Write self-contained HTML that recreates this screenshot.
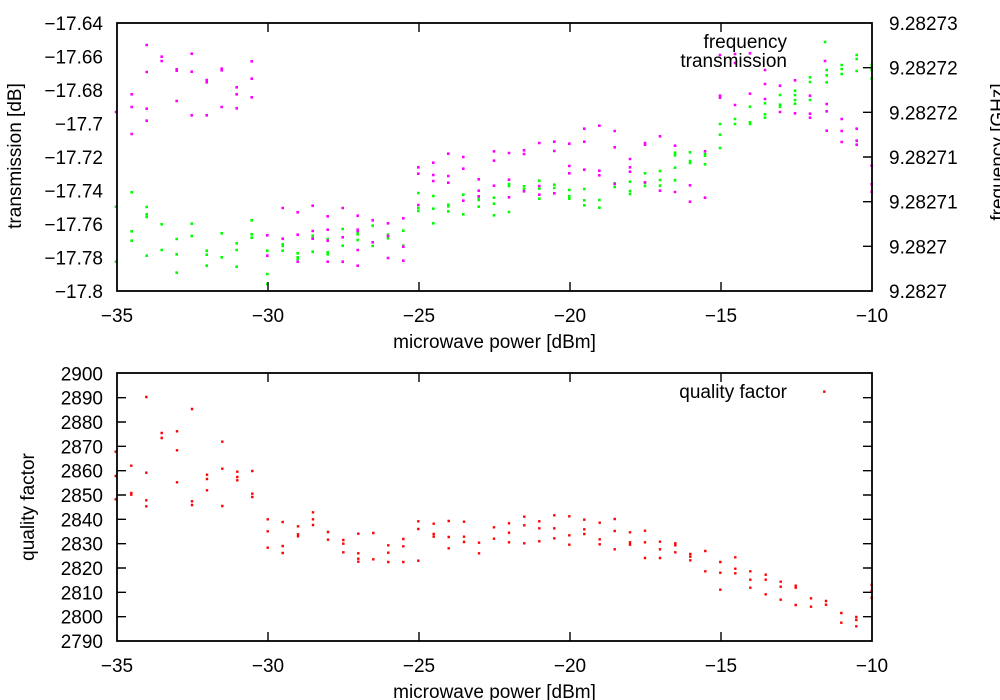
<!DOCTYPE html>
<html><head><meta charset="utf-8"><style>
html,body{margin:0;padding:0;background:#fff;}
svg{display:block;}
text{font-family:"Liberation Sans",Arial,sans-serif;font-size:19px;fill:#000;}
</style></head><body>
<svg width="1000" height="700" viewBox="0 0 1000 700" xmlns="http://www.w3.org/2000/svg">
<rect width="1000" height="700" fill="#fff"/>

<!-- TOP PLOT POINTS -->
<path fill="none" stroke="#00ff00" stroke-width="2.6" stroke-linecap="square" d="
M116 206.7h.01M116 261.7h.01M131.7 192.3h.01M131.7 231.3h.01M131.7 240.7h.01M146.7 207h.01M146.7 214.3h.01M146.7 217h.01M146.7 255.7h.01
M161.7 224.3h.01M161.7 250h.01M176.7 239h.01M176.7 254.3h.01M176.7 272.7h.01M191.7 223.7h.01M191.7 236h.01M206.7 250.7h.01M206.7 254.7h.01M206.7 265.7h.01
M221.7 233.3h.01M221.7 257.3h.01M236.7 243.3h.01M236.7 250h.01M236.7 266.7h.01M251.7 220.3h.01M251.7 234.3h.01M251.7 237.7h.01
M267.3 250.7h.01M267.3 274h.01M267.3 284h.01M282.7 244.3h.01M282.7 246h.01M282.7 250.7h.01M297.7 253.3h.01M297.7 257.3h.01M297.7 259h.01
M312.7 235.7h.01M312.7 237.7h.01M312.7 251.7h.01M327.7 239h.01M327.7 252.3h.01M327.7 254.3h.01M342.7 229h.01M342.7 245.7h.01
M357.7 232.3h.01M357.7 234.3h.01M357.7 240h.01M372.7 225.7h.01M372.7 246h.01M388 234.7h.01M388 238.3h.01M403.3 230.7h.01M403.3 245.7h.01
M418.3 193h.01M418.3 208h.01M418.3 211h.01M433.3 196h.01M433.3 208.7h.01M433.3 223.3h.01M448.3 204.7h.01M448.3 206.3h.01M448.3 211.3h.01
M463.3 194.7h.01M463.3 214.3h.01M478.7 197.3h.01M478.7 200h.01M478.7 206.7h.01M494 197.7h.01M494 203.7h.01M494 215.3h.01
M509 184h.01M509 186h.01M509 212h.01M524 186.3h.01M524 189.3h.01M539.3 180.7h.01M539.3 188.7h.01M539.3 198.7h.01
M554.3 184.7h.01M554.3 188h.01M569.3 190h.01M569.3 196.3h.01M569.3 198.7h.01M584.3 189h.01M584.3 200.3h.01M584.3 205.3h.01
M599.3 200h.01M599.3 207.7h.01M614.7 183.3h.01M614.7 187h.01M630 181.7h.01M630 191h.01M630 194h.01M645 173.3h.01M645 183h.01M645 186h.01
M660 171h.01M660 180h.01M660 185.7h.01M675 152.7h.01M675 155.3h.01M675 167.7h.01M675 180.3h.01M690 152.3h.01M690 161h.01M690 163h.01
M705 154h.01M705 155.7h.01M705 164.3h.01M720 124h.01M720 134.7h.01M720 148h.01M735 119h.01M735 124h.01M750 106.7h.01M750 122.3h.01M750 124h.01
M765 103.3h.01M765 114.3h.01M765 117.7h.01M780 95h.01M780 104.7h.01M780 106.7h.01M795 90.7h.01M795 95h.01M795 100h.01M795 103.7h.01
M810 77.3h.01M810 82h.01M810 100h.01M825 42h.01M826.7 70h.01M826.7 75.3h.01M826.7 82.3h.01M841.7 65h.01M841.7 69h.01M841.7 74h.01
M856.7 55h.01M856.7 59h.01M856.7 71h.01M871.7 65h.01M871.7 70h.01M871.7 78.7h.01"/>

<path fill="none" stroke="#ff00ff" stroke-width="2.6" stroke-linecap="square" d="
M116 112h.01M131.7 94.3h.01M131.7 107h.01M131.7 134h.01M146.7 45h.01M146.7 72h.01M146.7 108.7h.01M146.7 120.7h.01
M161.7 56.7h.01M161.7 61h.01M176.7 69.3h.01M176.7 70.7h.01M176.7 101h.01M191.7 53.7h.01M191.7 71.7h.01M191.7 115.3h.01
M206.7 80h.01M206.7 82.3h.01M206.7 115.3h.01M221.7 68.7h.01M221.7 70.3h.01M221.7 107h.01M236.7 87.3h.01M236.7 94.3h.01M236.7 108.3h.01
M251.7 61.3h.01M251.7 78.7h.01M251.7 97.3h.01M267.3 235.3h.01M267.3 255.7h.01M282.7 208h.01M282.7 238.7h.01
M297.7 212.3h.01M297.7 234.7h.01M297.7 261.7h.01M312.7 205.7h.01M312.7 231h.01M312.7 238.7h.01
M327.7 216.3h.01M327.7 229.7h.01M327.7 240.7h.01M327.7 261.7h.01M342.7 208h.01M342.7 237.3h.01M342.7 261.7h.01
M357.7 215.7h.01M357.7 229.7h.01M357.7 231h.01M357.7 250h.01M357.7 265.7h.01M372.7 220.3h.01M372.7 242.3h.01
M388 223.3h.01M388 236h.01M388 258h.01M403.3 218.3h.01M403.3 246.7h.01M403.3 260.7h.01
M418.3 167.3h.01M418.3 173.7h.01M418.3 205h.01M433.3 162.7h.01M433.3 175h.01M433.3 181h.01M448.3 153.7h.01M448.3 176h.01M448.3 182.7h.01
M463.3 157h.01M463.3 168.7h.01M463.3 200.7h.01M478.7 179.3h.01M478.7 190.7h.01M478.7 196.3h.01M494 151.3h.01M494 160.7h.01M494 185.7h.01
M509 153h.01M509 179.7h.01M509 197.3h.01M524 150.3h.01M524 154h.01M524 191.3h.01M539.3 143h.01M539.3 186h.01M539.3 194.7h.01
M554.3 141.7h.01M554.3 151h.01M554.3 193.3h.01M569.3 143.7h.01M569.3 166h.01M569.3 173.3h.01M584.3 128.7h.01M584.3 141.7h.01M584.3 169.7h.01
M599.3 125.7h.01M599.3 170.7h.01M599.3 175.3h.01M614.7 131h.01M614.7 147.3h.01M614.7 184h.01M630 159h.01M630 167.3h.01M630 171.7h.01
M645 143h.01M645 144.7h.01M645 182.3h.01M660 136.3h.01M660 190.7h.01M675 145.7h.01M675 192h.01M690 185.3h.01M690 201.7h.01
M705 151.3h.01M705 197.7h.01M720 55h.01M720 95.7h.01M720 97.7h.01M735 54h.01M735 63h.01M735 105h.01M750 53.3h.01M750 93.7h.01
M765 70h.01M765 84h.01M765 99h.01M780 85.7h.01M780 112h.01M795 80.3h.01M795 113.3h.01M810 95.7h.01M810 113.7h.01M810 117.7h.01
M825 61h.01M826.7 104h.01M826.7 111.3h.01M826.7 130.7h.01M841.7 119h.01M841.7 131h.01M841.7 142h.01
M856.7 128.7h.01M856.7 140.7h.01M856.7 144.7h.01M871.7 165.7h.01M871.7 184.3h.01M871.7 191.7h.01"/>

<!-- BOTTOM PLOT POINTS -->
<path fill="none" stroke="#ff0000" stroke-width="2.4" stroke-linecap="square" d="
M115.7 451.7h.01M115.7 476h.01M115.7 499.3h.01M131.3 465.7h.01M131.3 493h.01M131.3 494.7h.01
M146.3 397h.01M146.3 472.7h.01M146.3 500.3h.01M146.3 506.3h.01M161.7 433h.01M161.7 438h.01
M177 431.3h.01M177 450.3h.01M177 482.3h.01M192 409h.01M192 501.3h.01M192 505h.01M207 474.7h.01M207 479h.01M207 490.3h.01
M222.3 441.7h.01M222.3 468.7h.01M222.3 506h.01M237.3 471.7h.01M237.3 477h.01M237.3 480.3h.01M252.3 471h.01M252.3 493.7h.01M252.3 497h.01
M267.7 519.3h.01M267.7 531.3h.01M267.7 547.7h.01M282.7 522h.01M282.7 546h.01M282.7 553h.01M298 526.3h.01M298 534.3h.01M298 536.3h.01
M313 512.3h.01M313 519.3h.01M313 525h.01M328 532h.01M328 539.7h.01M343.3 540h.01M343.3 543.7h.01M343.3 552.3h.01
M358.3 533.7h.01M358.3 553.3h.01M358.3 558.7h.01M358.3 561.7h.01M373.3 533h.01M373.3 559.3h.01
M388.3 545.3h.01M388.3 552.7h.01M388.3 562h.01M403.3 539h.01M403.3 546.3h.01M403.3 562h.01M418.3 521.3h.01M418.3 529h.01M418.3 560.7h.01
M433.7 523.7h.01M433.7 534h.01M433.7 536.7h.01M448.7 521h.01M448.7 537h.01M448.7 548.3h.01M464 521.7h.01M464 536.7h.01M464 542h.01
M479 542.7h.01M479 553.3h.01M494 527.3h.01M494 538.7h.01M509 523.3h.01M509 532.7h.01M509 542.3h.01
M524.3 516.7h.01M524.3 525.3h.01M524.3 543.3h.01M539.3 521.3h.01M539.3 528.3h.01M539.3 541.3h.01M554.3 515.3h.01M554.3 528.3h.01M554.3 538.3h.01
M569.3 516.3h.01M569.3 535.3h.01M569.3 544.7h.01M584.3 519.7h.01M584.3 529.3h.01M584.3 534h.01M599.7 522.7h.01M599.7 539.3h.01M599.7 544.3h.01
M614.7 519h.01M614.7 531h.01M614.7 549.3h.01M630 532.3h.01M630 542.3h.01M630 544.7h.01M645 530.7h.01M645 542.3h.01M645 558h.01
M660 541.7h.01M660 549.3h.01M660 558h.01M675.3 543.3h.01M675.3 545.3h.01M675.3 552.3h.01M690.3 554h.01M690.3 556.7h.01M690.3 560.3h.01
M705.3 551h.01M705.3 571.3h.01M720.3 562h.01M720.3 572.7h.01M720.3 589.7h.01M735.3 557.3h.01M735.3 568.7h.01M735.3 573.3h.01
M750.3 571.3h.01M750.3 579.7h.01M750.3 587.7h.01M765.7 574.7h.01M765.7 579.7h.01M765.7 594.3h.01M780.7 581.7h.01M780.7 586.7h.01M780.7 599.7h.01
M795.7 585.7h.01M795.7 587.7h.01M795.7 605h.01M811 598.3h.01M811 606.7h.01M824.3 391.7h.01M826 601h.01M826 604.7h.01
M841.3 613h.01M841.3 622.7h.01M856.3 617h.01M856.3 620h.01M856.3 626.3h.01M871.7 585h.01M871.7 591h.01M871.7 597.7h.01"/>

<!-- FRAMES & TICKS -->
<g stroke="#000" fill="none">
<rect x="117" y="23" width="755" height="268" stroke-width="1.8"/>
<rect x="117" y="373" width="755" height="268" stroke-width="1.8"/>
<path stroke-width="1.4" d="
M268 23v9M419 23v9M570 23v9M721 23v9
M268 291v-9M419 291v-9M570 291v-9M721 291v-9
M872 67.7h-9M872 112.3h-9M872 157h-9M872 201.7h-9M872 246.3h-9
M268 373v9M419 373v9M570 373v9M721 373v9
M268 641v-9M419 641v-9M570 641v-9M721 641v-9
M117 397.7h9M117 422h9M117 446.3h9M117 470.7h9M117 495h9M117 519.3h9M117 543.7h9M117 568h9M117 592.3h9M117 616.7h9
M872 397.7h-9M872 422h-9M872 446.3h-9M872 470.7h-9M872 495h-9M872 519.3h-9M872 543.7h-9M872 568h-9M872 592.3h-9M872 616.7h-9"/>
</g>

<!-- TOP PLOT LABELS -->
<g text-anchor="end">
<text x="103" y="30">−17.64</text>
<text x="103" y="63.5">−17.66</text>
<text x="103" y="97">−17.68</text>
<text x="103" y="130.5">−17.7</text>
<text x="103" y="164">−17.72</text>
<text x="103" y="197.5">−17.74</text>
<text x="103" y="231">−17.76</text>
<text x="103" y="264.5">−17.78</text>
<text x="103" y="298">−17.8</text>
</g>
<g text-anchor="start">
<text x="889" y="30">9.28273</text>
<text x="889" y="74.7">9.28272</text>
<text x="889" y="119.3">9.28272</text>
<text x="889" y="164">9.28271</text>
<text x="889" y="208.7">9.28271</text>
<text x="889" y="253.3">9.2827</text>
<text x="889" y="298">9.2827</text>
</g>
<g text-anchor="middle">
<text x="117" y="322">−35</text>
<text x="268" y="322">−30</text>
<text x="419" y="322">−25</text>
<text x="570" y="322">−20</text>
<text x="721" y="322">−15</text>
<text x="872" y="322">−10</text>
<text x="494.5" y="348">microwave power [dBm]</text>
</g>
<text text-anchor="middle" transform="translate(21,156) rotate(-90)">transmission [dB]</text>
<text text-anchor="middle" transform="translate(1004,152) rotate(-90)">frequency [GHz]</text>
<text x="787" y="48" text-anchor="end">frequency</text>
<text x="787" y="67" text-anchor="end">transmission</text>

<!-- BOTTOM PLOT LABELS -->
<g text-anchor="end">
<text x="103" y="380.3">2900</text>
<text x="103" y="404.7">2890</text>
<text x="103" y="429">2880</text>
<text x="103" y="453.3">2870</text>
<text x="103" y="477.7">2860</text>
<text x="103" y="502">2850</text>
<text x="103" y="526.3">2840</text>
<text x="103" y="550.7">2830</text>
<text x="103" y="575">2820</text>
<text x="103" y="599.3">2810</text>
<text x="103" y="623.7">2800</text>
<text x="103" y="648">2790</text>
</g>
<g text-anchor="middle">
<text x="117" y="672">−35</text>
<text x="268" y="672">−30</text>
<text x="419" y="672">−25</text>
<text x="570" y="672">−20</text>
<text x="721" y="672">−15</text>
<text x="872" y="672">−10</text>
<text x="494.5" y="698">microwave power [dBm]</text>
</g>
<text text-anchor="middle" transform="translate(34,507) rotate(-90)">quality factor</text>
<text x="787" y="398" text-anchor="end">quality factor</text>
</svg>
</body></html>
